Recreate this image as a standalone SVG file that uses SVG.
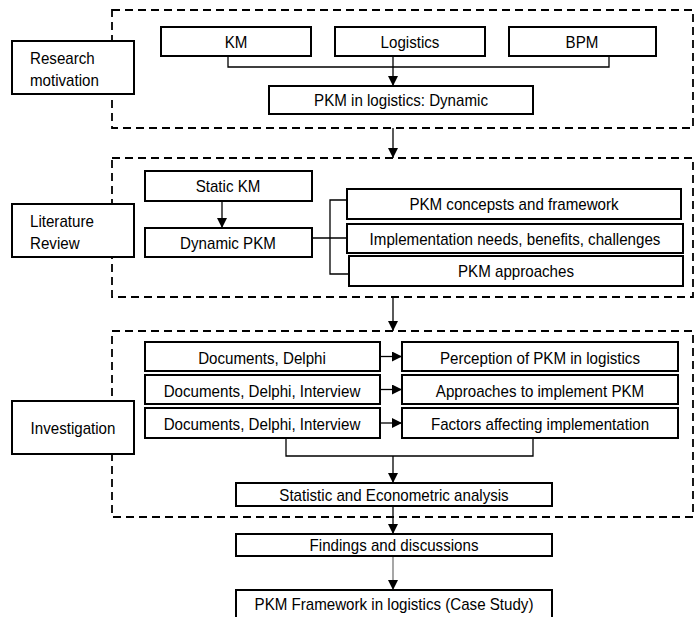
<svg xmlns="http://www.w3.org/2000/svg" width="698" height="617" viewBox="0 0 698 617">
<style>
.box{fill:#fff;stroke:#000;stroke-width:2}
.dash{fill:none;stroke:#000;stroke-width:1.8;stroke-dasharray:8 5}
.ln{fill:none;stroke:#000;stroke-width:1.3}
text{font-family:"Liberation Sans",Arial,sans-serif;font-size:17px;fill:#000;text-anchor:middle}
.l{text-anchor:start}
</style>
<defs>
<marker id="ah" viewBox="0 0 10 10" refX="10" refY="5" markerWidth="10" markerHeight="10" markerUnits="userSpaceOnUse" orient="auto">
<path d="M0,0 L10,5 L0,10 Z" fill="#000"/>
</marker>
</defs>
<rect width="698" height="617" fill="#fff"/>
<g id="sections">
<rect class="dash" x="112" y="10" width="581" height="118"/>
<rect class="dash" x="112" y="158" width="581" height="139"/>
<rect class="dash" x="112" y="331" width="581" height="186"/>
</g>
<g id="connectors">
<polyline class="ln" points="228,56 228,67 609,67 609,56"/>
<line class="ln" x1="393" y1="56" x2="393" y2="86" marker-end="url(#ah)"/>
<line class="ln" x1="393" y1="128" x2="393" y2="158" marker-end="url(#ah)"/>
<line class="ln" x1="222" y1="201" x2="222" y2="228" marker-end="url(#ah)"/>
<line class="ln" x1="313" y1="238" x2="347" y2="238"/>
<polyline class="ln" points="347,200 330,200 330,274 349,274"/>
<line class="ln" x1="393" y1="297" x2="393" y2="331" marker-end="url(#ah)"/>
<line class="ln" x1="381" y1="356.5" x2="402" y2="356.5" marker-end="url(#ah)"/>
<line class="ln" x1="381" y1="389.5" x2="402" y2="389.5" marker-end="url(#ah)"/>
<line class="ln" x1="381" y1="423" x2="402" y2="423" marker-end="url(#ah)"/>
<polyline class="ln" points="286,438 286,456 533,456 533,438"/>
<line class="ln" x1="393" y1="456" x2="393" y2="483" marker-end="url(#ah)"/>
<line class="ln" x1="393" y1="506" x2="393" y2="534" marker-end="url(#ah)"/>
<line class="ln" x1="393" y1="556" x2="393" y2="590" marker-end="url(#ah)" style="stroke:#777"/>
</g>
<g id="research-motivation"><rect class="box" x="12" y="41" width="122" height="53"/><text class="l" transform="translate(30 64) scale(0.89 1)">Research</text><text class="l" transform="translate(30 86) scale(0.89 1)">motivation</text></g>
<g id="km"><rect class="box" x="161" y="27" width="150" height="29"/><text transform="translate(236 47.5) scale(0.89 1)">KM</text></g>
<g id="logistics"><rect class="box" x="335" y="27" width="150" height="29"/><text transform="translate(410 47.5) scale(0.89 1)">Logistics</text></g>
<g id="bpm"><rect class="box" x="509" y="27" width="147" height="29"/><text transform="translate(582 47.5) scale(0.89 1)">BPM</text></g>
<g id="pkm-logistics"><rect class="box" x="269" y="86" width="264" height="28"/><text transform="translate(401 106) scale(0.89 1)">PKM in logistics: Dynamic</text></g>
<g id="literature-review"><rect class="box" x="12" y="204" width="122" height="53"/><text class="l" transform="translate(30 227) scale(0.89 1)">Literature</text><text class="l" transform="translate(30 249) scale(0.89 1)">Review</text></g>
<g id="static-km"><rect class="box" x="145" y="171" width="167" height="30"/><text transform="translate(228 192) scale(0.89 1)">Static KM</text></g>
<g id="dynamic-pkm"><rect class="box" x="145" y="228" width="167" height="29"/><text transform="translate(228 249) scale(0.89 1)">Dynamic PKM</text></g>
<g id="pkm-concepts"><rect class="box" x="347" y="189" width="334" height="30"/><text transform="translate(514 210) scale(0.89 1)">PKM concepsts and framework</text></g>
<g id="implementation"><rect class="box" x="347" y="224" width="336" height="29"/><text transform="translate(515 245) scale(0.89 1)">Implementation needs, benefits, challenges</text></g>
<g id="pkm-approaches"><rect class="box" x="349" y="256" width="334" height="30"/><text transform="translate(516 277) scale(0.89 1)">PKM approaches</text></g>
<g id="investigation"><rect class="box" x="12" y="401" width="122" height="53"/><text transform="translate(73 434) scale(0.89 1)">Investigation</text></g>
<g id="doc1"><rect class="box" x="145" y="342" width="235" height="29"/><text transform="translate(262 363.5) scale(0.89 1)">Documents, Delphi</text></g>
<g id="doc2"><rect class="box" x="145" y="375" width="235" height="29"/><text transform="translate(262 396.5) scale(0.89 1)">Documents, Delphi, Interview</text></g>
<g id="doc3"><rect class="box" x="145" y="408" width="235" height="30"/><text transform="translate(262 429.5) scale(0.89 1)">Documents, Delphi, Interview</text></g>
<g id="perception"><rect class="box" x="402" y="342" width="276" height="29"/><text transform="translate(540 363.5) scale(0.89 1)">Perception of PKM in logistics</text></g>
<g id="approaches"><rect class="box" x="402" y="375" width="276" height="29"/><text transform="translate(540 396.5) scale(0.89 1)">Approaches to implement PKM</text></g>
<g id="factors"><rect class="box" x="402" y="408" width="276" height="30"/><text transform="translate(540 429.5) scale(0.89 1)">Factors affecting implementation</text></g>
<g id="statistic"><rect class="box" x="236" y="483" width="316" height="23"/><text transform="translate(394 500.5) scale(0.89 1)">Statistic and Econometric analysis</text></g>
<g id="findings"><rect class="box" x="236" y="534" width="316" height="22"/><text transform="translate(394 551) scale(0.89 1)">Findings and discussions</text></g>
<g id="framework"><rect class="box" x="236" y="590" width="316" height="40"/><text transform="translate(394 609.5) scale(0.89 1)">PKM Framework in logistics (Case Study)</text></g>
</svg>
